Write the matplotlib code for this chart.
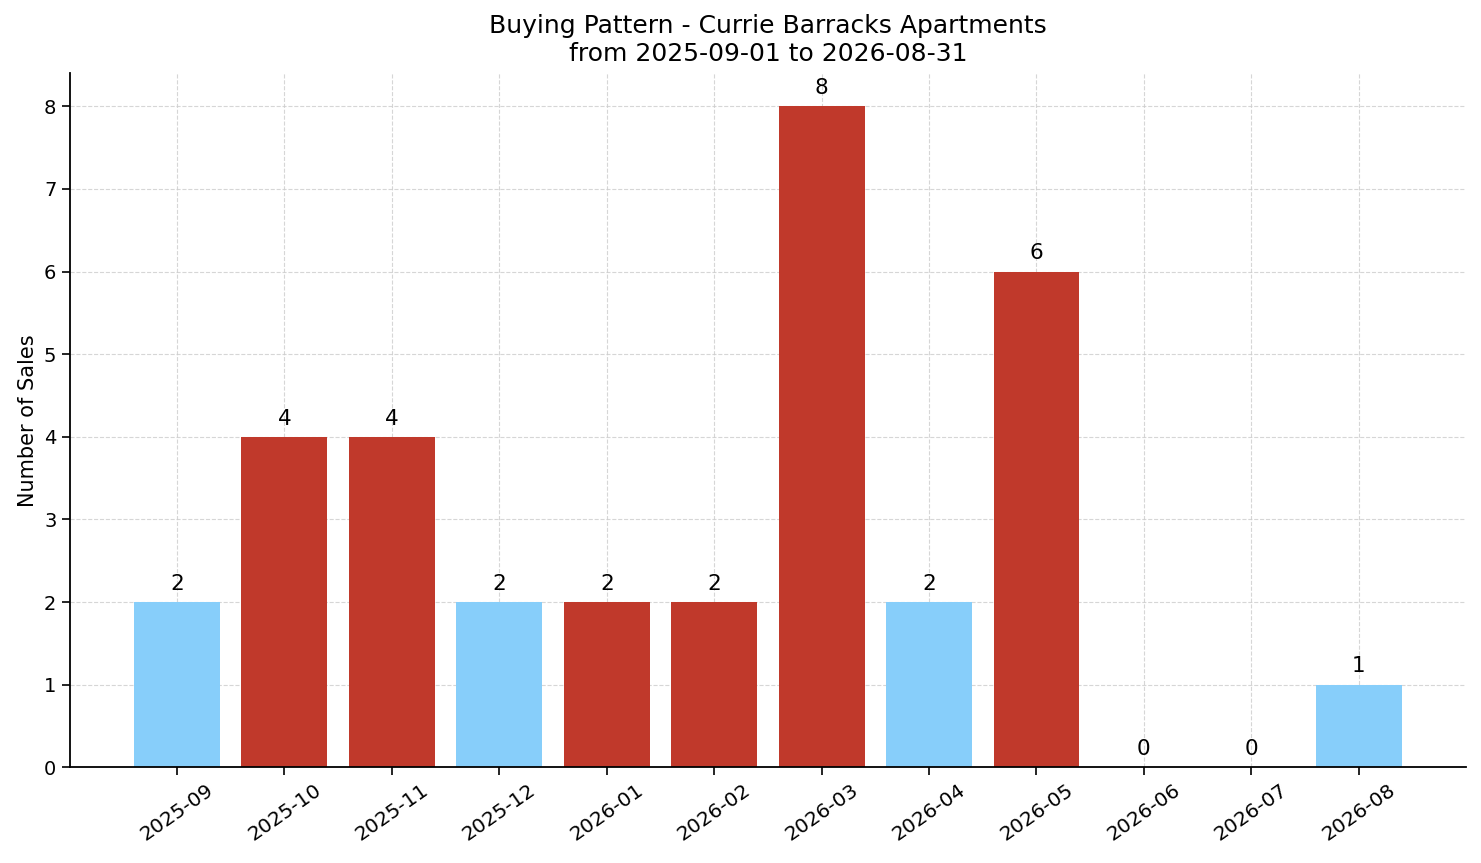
import matplotlib
matplotlib.use("Agg")
import matplotlib.pyplot as plt

months = ["2025-09", "2025-10", "2025-11", "2025-12", "2026-01", "2026-02",
          "2026-03", "2026-04", "2026-05", "2026-06", "2026-07", "2026-08"]
sales = [2, 4, 4, 2, 2, 2, 8, 2, 6, 0, 0, 1]
colors = ["#87CEFA", "#C0392B", "#C0392B", "#87CEFA", "#C0392B", "#C0392B",
          "#C0392B", "#87CEFA", "#C0392B", "#C0392B", "#C0392B", "#87CEFA"]

fig, ax = plt.subplots(figsize=(14.81, 8.63), dpi=100)
x = list(range(len(months)))
bars = ax.bar(x, sales, color=colors, width=0.8, zorder=2)
for xi, v in zip(x, sales):
    ax.text(xi, v + 0.1, str(v), ha="center", va="bottom", fontsize=15.5)

ax.set_xticks(x)
ax.set_xticklabels(months, rotation=35, fontsize=14.5)
ax.tick_params(axis="both", length=6, width=1.2)
ax.tick_params(axis="y", labelsize=14)
ax.set_xlim(-1, 12)
ax.set_ylim(0, 8.4)
ax.set_ylabel("Number of Sales", fontsize=15)
ax.set_title("Buying Pattern - Currie Barracks Apartments\nfrom 2025-09-01 to 2026-08-31",
             fontsize=18, pad=9)
ax.grid(True, linestyle="--", color="#cccccc", alpha=0.8, linewidth=0.8, zorder=0)
ax.set_axisbelow(True)
ax.spines["top"].set_visible(False)
ax.spines["right"].set_visible(False)
for s in ("left", "bottom"):
    ax.spines[s].set_linewidth(1.3)

fig.subplots_adjust(left=0.047, right=0.99, top=0.915, bottom=0.111)
fig.savefig("out.png", dpi=100)
